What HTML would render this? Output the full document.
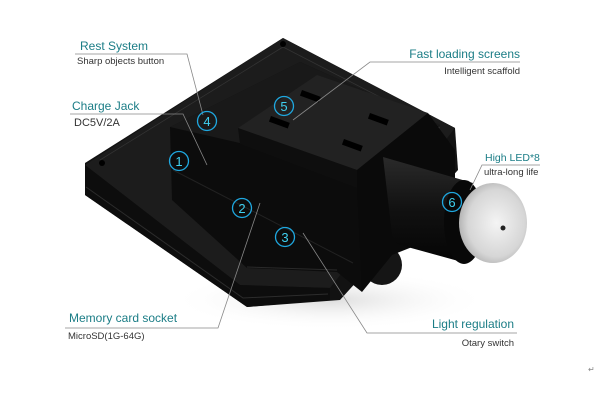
<!DOCTYPE html>
<html><head><style>
html,body{margin:0;padding:0;background:#fff}
svg{display:block}
.h{font-family:"Liberation Sans",sans-serif;font-size:12px;fill:#1b7d86}
.s{font-family:"Liberation Sans",sans-serif;font-size:9.5px;fill:#333}
.n{font-family:"Liberation Sans",sans-serif;font-size:13px;fill:#3fd0f0;text-anchor:middle}
</style></head><body>
<svg width="600" height="400" viewBox="0 0 600 400" xmlns="http://www.w3.org/2000/svg">
<defs>
<radialGradient id="lens" cx="0.55" cy="0.5" r="0.6"><stop offset="0" stop-color="#f4f4f4"/><stop offset="0.7" stop-color="#d6d6d6"/><stop offset="1" stop-color="#a8a8a8"/></radialGradient>
<linearGradient id="cyl" x1="0" y1="0" x2="0" y2="1"><stop offset="0" stop-color="#2a2a2a"/><stop offset="0.5" stop-color="#111"/><stop offset="1" stop-color="#050505"/></linearGradient>
<radialGradient id="sh" cx="0.5" cy="0.5" r="0.5"><stop offset="0" stop-color="#ddd"/><stop offset="1" stop-color="#fff" stop-opacity="0"/></radialGradient>
</defs>
<ellipse cx="330" cy="300" rx="160" ry="30" fill="url(#sh)"/>
<!-- base plate -->
<polygon points="283,38 455,128 458,170 340,300 247,307 85,195 85,163" fill="#121212"/>
<polygon points="283,38 455,128 330,288 240,285 85,165" fill="#1c1c1c"/>
<polygon points="85,165 240,285 330,288 330,300 247,307 85,195" fill="#0d0d0d"/>
<polyline points="86,187 243,298 328,294" fill="none" stroke="#2c2c2c" stroke-width="1"/>
<polyline points="100,160 283,47 440,128" fill="none" stroke="#333" stroke-width="0.8"/>
<circle cx="283" cy="44" r="3" fill="#000"/>
<circle cx="102" cy="163" r="3" fill="#000"/>
<!-- raised body -->
<polygon points="170,127 300,62 440,125 362,200 362,292 337,272 247,268 172,200" fill="#0c0c0c"/>
<polygon points="170,127 300,62 440,125 357,170" fill="#191919"/>
<polyline points="173,170 353,263" fill="none" stroke="#222" stroke-width="1"/>
<polyline points="247,267 337,270" fill="none" stroke="#2a2a2a" stroke-width="1"/>
<!-- knob -->
<ellipse cx="382" cy="265" rx="20" ry="20" fill="#151515"/>
<!-- top block -->
<polygon points="238,128 317,75 428,113 357,170" fill="#222"/>
<polygon points="238,128 357,170 357,188 240,144" fill="#0e0e0e"/>
<polygon points="357,170 428,113 455,150 455,230 392,255 362,292 357,188" fill="#0a0a0a"/>
<g fill="#000">
<rect x="302" y="90" width="20" height="6" transform="rotate(20 302 90)"/>
<rect x="271" y="116" width="20" height="6" transform="rotate(20 271 116)"/>
<rect x="370" y="113" width="20" height="6" transform="rotate(20 370 113)"/>
<rect x="344" y="139" width="20" height="6" transform="rotate(20 344 139)"/>
</g>
<!-- cylinder -->
<polygon points="383,157 473,183 462,262 393,243" fill="url(#cyl)"/>
<ellipse cx="464" cy="222" rx="20" ry="42" fill="#080808"/>
<ellipse cx="493" cy="223" rx="34" ry="40" fill="url(#lens)"/>
<circle cx="503" cy="228" r="2.5" fill="#222"/>
<!-- leader lines -->
<g stroke="#888" stroke-width="0.8" fill="none">
<polyline points="75,54 187,54 203,115"/>
<polyline points="70,114 183,114 207,165"/>
<polyline points="520,62 370,62 293,120"/>
<polyline points="540,165 482,165 470,190"/>
<polyline points="65,328 218,328 260,203"/>
<polyline points="517,333 367,333 303,233"/>
</g>
<!-- labels -->
<text class="h" x="80" y="50">Rest System</text>
<text class="s" x="77" y="64">Sharp objects button</text>
<text class="h" x="72" y="110">Charge Jack</text>
<text class="s" x="74" y="126" style="font-size:11px">DC5V/2A</text>
<text class="h" x="520" y="58" text-anchor="end">Fast loading screens</text>
<text class="s" x="520" y="74" text-anchor="end">Intelligent scaffold</text>
<text class="h" x="485" y="161" style="font-size:10.5px">High LED*8</text>
<text class="s" x="484" y="175">ultra-long life</text>
<text class="h" x="69" y="322">Memory card socket</text>
<text class="s" x="68" y="339">MicroSD(1G-64G)</text>
<text class="h" x="514" y="328" text-anchor="end">Light regulation</text>
<text class="s" x="514" y="346" text-anchor="end">Otary switch</text>
<!-- numbers -->
<g stroke="#1fa8e0" stroke-width="1.3" fill="none">
<circle cx="179" cy="161" r="9.5"/><circle cx="242" cy="208" r="9.5"/><circle cx="285" cy="237" r="9.5"/>
<circle cx="207" cy="121" r="9.5"/><circle cx="284" cy="106" r="9.5"/><circle cx="452" cy="202" r="9.5"/>
</g>
<text class="n" x="179" y="166">1</text><text class="n" x="242" y="213">2</text><text class="n" x="285" y="242">3</text>
<text class="n" x="207" y="126">4</text><text class="n" x="284" y="111">5</text><text class="n" x="452" y="207">6</text>
<text x="588" y="372" class="s" style="font-size:8px;fill:#888">↵</text>
</svg>
</body></html>
